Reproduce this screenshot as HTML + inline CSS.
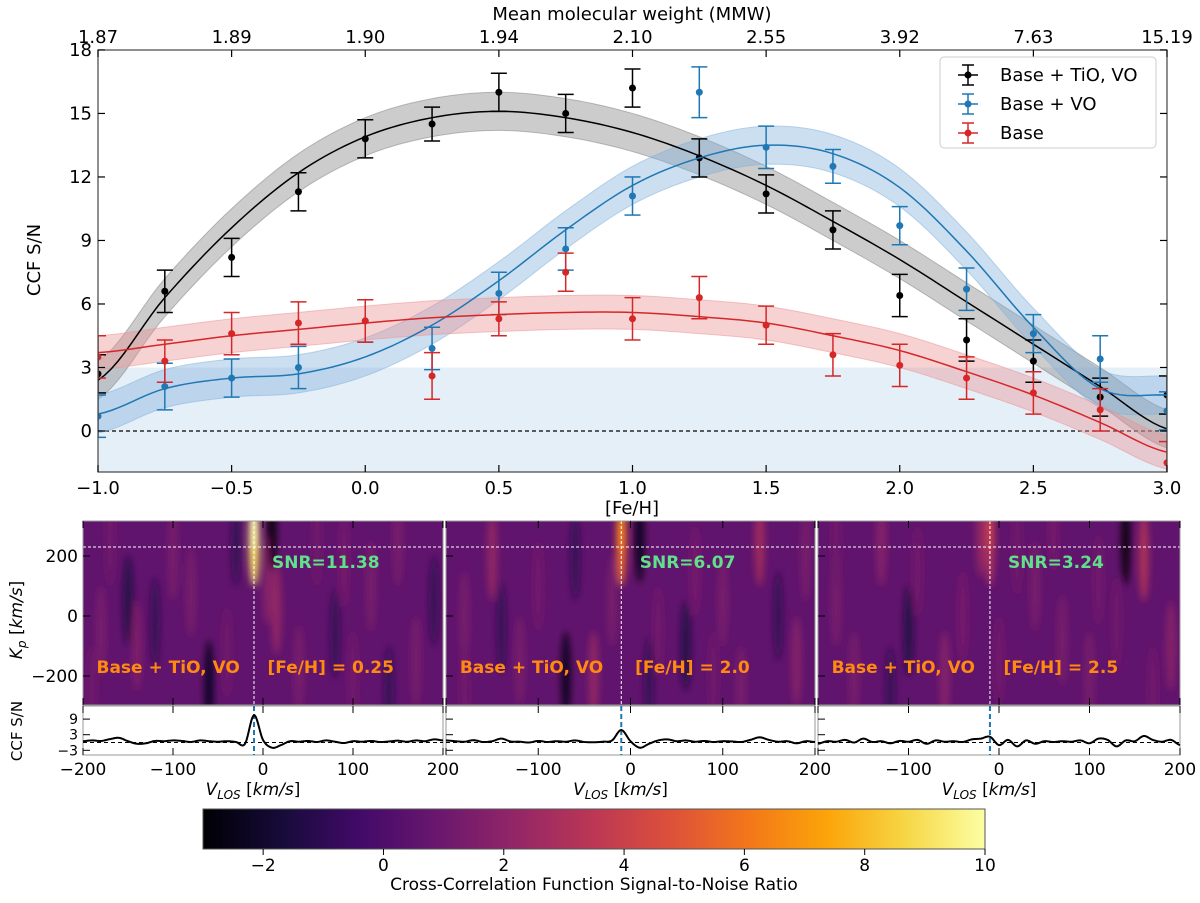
<!DOCTYPE html>
<html><head><meta charset="utf-8"><style>
body{margin:0;background:#fff;font-family:"Liberation Sans","DejaVu Sans",sans-serif}
svg text{font-family:"DejaVu Sans","Liberation Sans",sans-serif}
</style></head><body>
<svg id="fig" width="1200" height="898" viewBox="0 0 1200 898" xmlns="http://www.w3.org/2000/svg">
<defs>
<filter id="blur" x="-50%" y="-50%" width="200%" height="200%"><feGaussianBlur stdDeviation="3.5"/></filter>
<clipPath id="mainclip"><rect x="98" y="50" width="1069" height="422"/></clipPath>
<linearGradient id="inferno" x1="0" x2="1" y1="0" y2="0">
<stop offset="0" stop-color="#000004"/><stop offset="0.1" stop-color="#160b39"/><stop offset="0.2" stop-color="#420a68"/><stop offset="0.3" stop-color="#6a176e"/><stop offset="0.4" stop-color="#932667"/><stop offset="0.5" stop-color="#bc3754"/><stop offset="0.6" stop-color="#dd513a"/><stop offset="0.7" stop-color="#f37819"/><stop offset="0.8" stop-color="#fca50a"/><stop offset="0.9" stop-color="#f6d746"/><stop offset="1" stop-color="#fcffa4"/>
</linearGradient>
</defs>
<g id="main"></g>
<g id="bottom"></g>
<g id="cbar"></g>
</svg>
<script>
// ---------- main chart data ----------
const feh = [-1,-0.75,-0.5,-0.25,0,0.25,0.5,0.75,1,1.25,1.5,1.75,2,2.25,2.5,2.75,3];
const blackVals = [2.7,6.6,8.2,11.3,13.8,14.5,16.0,15.0,16.2,12.9,11.2,9.5,6.4,4.3,3.3,1.6,1.7];
const blackErr = [0.9,1.0,0.9,0.9,0.9,0.8,0.9,0.9,0.9,0.9,0.9,0.9,1.0,1.0,1.0,0.9,0.9];
const blueVals = [0.7,2.1,2.5,3.0,5.2,3.9,6.5,8.6,11.1,16.0,13.4,12.5,9.7,6.7,4.6,3.4,0.95];
const blueErr = [1.0,1.1,0.9,1.0,1.0,1.0,1.0,1.0,0.9,1.2,1.0,0.8,0.9,1.0,0.9,1.1,0.9];
const redVals = [3.5,3.3,4.6,5.1,5.2,2.6,5.3,7.5,5.3,6.3,5.0,3.6,3.1,2.5,1.8,1.0,-1.5];
const redErr = [1.0,1.0,1.0,1.0,1.0,1.1,0.8,0.9,1.0,1.0,0.9,1.0,1.0,1.0,1.0,1.0,1.0];
const blackFit = [2.4,6.3,9.6,12.2,13.9,14.8,15.1,14.8,14.1,13.0,11.6,9.9,8.1,6.1,4.1,2.1,0.1];
const blueFit = [0.8,2.0,2.5,2.7,3.5,5.0,7.1,9.5,11.6,12.9,13.5,13.1,11.5,8.5,4.9,2.0,1.7];
const redFit = [3.7,4.1,4.5,4.8,5.1,5.35,5.5,5.6,5.6,5.4,5.1,4.5,3.8,2.8,1.7,0.4,-1.0];
const bandHalf = [0.9,0.9,0.8];
const mmwLabels = ["1.87","1.89","1.90","1.94","2.10","2.55","3.92","7.63","15.19"];
const xTicks = [-1,-0.5,0,0.5,1,1.5,2,2.5,3];
const yTicks = [0,3,6,9,12,15,18];
const threshold = 3;

const NS="http://www.w3.org/2000/svg";
function mk(tag,attrs,parent,txt){const e=document.createElementNS(NS,tag);for(const k in attrs)e.setAttribute(k,attrs[k]);if(txt!==undefined)e.textContent=txt;parent.appendChild(e);return e;}
const X0=98,X1=1167,Y0=50,Y1=472;
const xs=v=>X0+(v+1)/4*(X1-X0);
const ys=v=>431-v*21.17;
function smooth(xv,yv){
  const pts=[];
  for(let i=0;i<xv.length-1;i++){
    const p0=yv[Math.max(i-1,0)],p1=yv[i],p2=yv[i+1],p3=yv[Math.min(i+2,yv.length-1)];
    for(let t=0;t<1;t+=0.1){
      const t2=t*t,t3=t2*t;
      const y=0.5*((2*p1)+(-p0+p2)*t+(2*p0-5*p1+4*p2-p3)*t2+(-p0+3*p1-3*p2+p3)*t3);
      pts.push([xv[i]+(xv[i+1]-xv[i])*t,y]);
    }
  }
  pts.push([xv[xv.length-1],yv[yv.length-1]]);
  return pts;
}
const main=document.getElementById('main');
const clipG=mk('g',{'clip-path':'url(#mainclip)'},main);
let r=mk('rect',{x:X0,y:ys(threshold),width:X1-X0,height:Y1-ys(threshold),fill:'#c6dbed','fill-opacity':0.45},clipG);


let zl=mk('line',{x1:X0,x2:X1,y1:ys(0),y2:ys(0),stroke:'#000','stroke-dasharray':'4,3','stroke-width':1.2},clipG);


const series=[
 {name:'base-tio-vo',col:'#000',band:'#808080',vals:blackVals,err:blackErr,fit:blackFit,h:bandHalf[0]},
 {name:'base-vo',col:'#1f77b4',band:'#7fb0dc',vals:blueVals,err:blueErr,fit:blueFit,h:bandHalf[1]},
 {name:'base',col:'#d62728',band:'#ec8f90',vals:redVals,err:redErr,fit:redFit,h:bandHalf[2]}];
series.forEach(s=>{
  const pts=smooth(feh,s.fit);
  let d='M'+pts.map(p=>xs(p[0])+','+ys(p[1]+s.h)).join('L')+'L'+pts.slice().reverse().map(p=>xs(p[0])+','+ys(p[1]-s.h)).join('L')+'Z';
  let b=mk('path',{d:d,fill:s.band,'fill-opacity':0.4,stroke:s.band,'stroke-opacity':0.5},clipG);
  
  
});
series.forEach(s=>{
  const pts=smooth(feh,s.fit);
  let l=mk('path',{d:'M'+pts.map(p=>xs(p[0])+','+ys(p[1])).join('L'),fill:'none',stroke:s.col,'stroke-width':1.5},clipG);
  
  
  feh.forEach((f,i)=>{
    const g=mk('g',{},clipG);
    
    
    const x=xs(f),yt=ys(s.vals[i]+s.err[i]),yb=ys(s.vals[i]-s.err[i]);
    mk('line',{x1:x,x2:x,y1:yt,y2:yb,stroke:s.col,'stroke-width':1.5},g);
    mk('line',{x1:x-8,x2:x+8,y1:yt,y2:yt,stroke:s.col,'stroke-width':1.5},g);
    mk('line',{x1:x-8,x2:x+8,y1:yb,y2:yb,stroke:s.col,'stroke-width':1.5},g);
    mk('circle',{cx:x,cy:ys(s.vals[i]),r:3.5,fill:s.col},g);
  });
});
let fr=mk('rect',{x:X0,y:Y0,width:X1-X0,height:Y1-Y0,fill:'none',stroke:'#444','stroke-width':1.2},main);


xTicks.forEach((t,i)=>{
  const x=xs(t);
  mk('line',{x1:x,x2:x,y1:Y1,y2:Y1-7,stroke:'#000','stroke-width':1.2},main);
  mk('line',{x1:x,x2:x,y1:Y0,y2:Y0+7,stroke:'#000','stroke-width':1.2},main);
  let tl=mk('text',{x:x,y:Y1+22,'text-anchor':'middle','font-size':18},main,t.toFixed(1).replace('-','−'));
  
  
  let ml=mk('text',{x:x,y:Y0-7,'text-anchor':'middle','font-size':18},main,mmwLabels[i]);
  
  
});
yTicks.forEach(t=>{
  const y=ys(t);
  mk('line',{x1:X0,x2:X0+7,y1:y,y2:y,stroke:'#000','stroke-width':1.2},main);
  mk('line',{x1:X1,x2:X1-7,y1:y,y2:y,stroke:'#000','stroke-width':1.2},main);
  let tl=mk('text',{x:X0-6,y:y+6,'text-anchor':'end','font-size':18},main,t);
  
  
});
let xt=mk('text',{x:632,y:514,'text-anchor':'middle','font-size':18},main,'[Fe/H]');

let tt=mk('text',{x:632,y:20,'text-anchor':'middle','font-size':18},main,'Mean molecular weight (MMW)');

let yt=mk('text',{x:40,y:260,'text-anchor':'middle','font-size':18,transform:'rotate(-90 40 260)'},main,'CCF S/N');

const lg=mk('g',{},main);

mk('rect',{x:940,y:57,width:216,height:91,rx:4,fill:'#fff',stroke:'#ccc'},lg);
['Base + TiO, VO','Base + VO','Base'].forEach((n,i)=>{
  const y=75+i*29,c=series[i].col;
  const e=mk('g',{},lg);
  
  mk('line',{x1:958,x2:978,y1:y,y2:y,stroke:c,'stroke-width':1.5},e);
  mk('line',{x1:968,x2:968,y1:y-10,y2:y+10,stroke:c,'stroke-width':1.5},e);
  mk('line',{x1:962,x2:974,y1:y-10,y2:y-10,stroke:c,'stroke-width':1.5},e);
  mk('line',{x1:962,x2:974,y1:y+10,y2:y+10,stroke:c,'stroke-width':1.5},e);
  mk('circle',{cx:968,cy:y,r:3.5,fill:c},e);
  mk('text',{x:1000,y:y+6,'font-size':18},e,n);
});

// ---------- bottom panels data ----------
const panelFeh = ["0.25","2.0","2.5"];
const panelSNR = ["11.38","6.07","3.24"];
const peakVal = [10,6.5,4];
const vlosGrid = [-200,-190,-180,-170,-160,-150,-140,-130,-120,-110,-100,-90,-80,-70,-60,-50,-40,-30,-20,-10,0,10,20,30,40,50,60,70,80,90,100,110,120,130,140,150,160,170,180,190,200];
const ccf1 = [0.5,0.8,0.6,1.3,1.8,0.5,-0.5,-0.3,0.6,0.5,0.8,0.6,0.2,0.8,0.5,0.3,0.5,0.2,-0.5,10.5,1.0,-2.0,-1.0,0.5,0.3,0.6,0.2,0.8,0.3,-0.2,0.5,0.3,0.6,0.2,0.4,0.7,0.3,0.8,0.5,1.2,0.8];
const ccf2 = [0.8,0.5,0.3,0.9,0.2,0.5,1.5,0.4,0.3,0.0,0.6,0.2,0.5,0.3,0.8,0.2,0.1,0.3,0.8,4.8,0.5,-2.0,-0.5,0.8,1.2,0.5,0.8,0.3,0.6,0.2,0.5,0.4,0.2,1.0,2.0,1.0,0.3,0.5,-0.3,0.5,0.2];
const ccf3 = [-0.5,0.5,0.3,1.0,0.0,1.5,0.2,0.5,-0.3,0.6,0.3,1.0,-0.5,0.8,0.3,0.5,0.2,1.2,1.5,2.2,-1.0,1.0,-1.5,0.8,-0.5,0.5,0.2,0.5,0.3,0.8,-0.3,1.5,1.0,-1.5,0.8,0.5,2.5,1.0,0.3,1.0,-1.0];
const streaks1 = [[-150,50,-1.5],[-140,-100,1.8],[-60,-230,-2.5],[15,20,2.5],[5,120,2],[10,300,-3],[-100,200,1.5],[120,100,1.5],[170,-150,1.5],[60,250,1.2],[-180,-50,1.5],[-170,250,1.2],[-120,-20,-1],[-80,80,1.5],[-40,-120,1.2],[-30,250,-1],[40,-180,1.5],[80,-60,-1],[90,180,1.4],[140,-250,-1],[150,250,1.5],[190,50,-1],[-190,-250,1.2],[100,-200,1.3]];
const streaks2 = [[-150,200,2.5],[-70,-200,-2.8],[-40,-200,2.5],[10,260,-2.8],[140,250,3],[100,50,1.5],[-120,-150,1.5],[180,-150,2],[60,-100,-1.5],[-180,0,1.5],[-100,100,1.3],[-60,200,-1],[-20,50,1.5],[30,-50,1.3],[70,150,1.4],[120,-250,1.5],[160,0,-1],[190,200,1.5],[-140,-40,-1],[20,-220,-1],[-180,-250,1.3],[90,-200,1.2]];
const streaks3 = [[-180,50,1.5],[-130,250,2],[-60,-200,2],[-20,280,2.5],[140,250,-3],[160,200,3.5],[100,-200,1.5],[40,100,1.5],[-100,-50,-1.5],[-160,-200,1.5],[-90,150,1.3],[-40,0,1.4],[0,-150,1.3],[20,220,1.2],[70,-80,1.5],[110,120,1.3],[190,-100,2],[-180,250,1.2],[-120,-250,-1],[60,300,1.4],[130,-20,1.2],[170,-250,1.3]];
const ccfs=[ccf1,ccf2,ccf3], streakSets=[streaks1,streaks2,streaks3];
const cbTicks=[-2,0,2,4,6,8,10];
const cbMin=-3.0, cbMax=10;

const infernoStops=['#000004','#160b39','#420a68','#6a176e','#932667','#bc3754','#dd513a','#f37819','#fca50a','#f6d746','#fcffa4'];
function hex2(c){return [1,3,5].map(i=>parseInt(c.substr(i,2),16));}
function valFrac(v){return (v-cbMin)/(cbMax-cbMin);}
function cmap(v){const f=Math.max(0,Math.min(1,valFrac(v)))*10;const i=Math.min(9,Math.floor(f)),t=f-i;const a=hex2(infernoStops[i]),b=hex2(infernoStops[i+1]);return 'rgb('+a.map((x,k)=>Math.round(x+(b[k]-x)*t)).join(',')+')';}

const panels=[[83,443],[446,815],[818,1180]];
const HY0=521,HY1=705,CY0=706,CY1=755;
const bottom=document.getElementById('bottom');
const kpY=kp=>616-kp*0.3;
panels.forEach((p,pi)=>{
  const [px0,px1]=p;
  const vx=v=>px0+(v+200)/400*(px1-px0);
  const g=mk('g',{},bottom);
  
  const cid='pc'+pi;
  const cp=mk('clipPath',{id:cid},g);mk('rect',{x:px0,y:HY0,width:px1-px0,height:HY1-HY0},cp);
  const hg=mk('g',{'clip-path':'url(#'+cid+')'},g);
  let bg=mk('rect',{x:px0,y:HY0,width:px1-px0,height:HY1-HY0,fill:cmap(0.6)},hg);
  
  const bl=mk('g',{filter:'url(#blur)'},hg);
  streakSets[pi].forEach(s=>{
    let e=mk('ellipse',{cx:vx(s[0]),cy:kpY(s[1]),rx:5,ry:45,fill:cmap(s[2]),'fill-opacity':0.8},bl);
    
  });
  let pk=mk('ellipse',{cx:vx(-10),cy:kpY(250),rx:5,ry:45,fill:cmap(peakVal[pi]-1)},bl);
  
  mk('ellipse',{cx:vx(-10),cy:kpY(300),rx:3.5,ry:25,fill:cmap(peakVal[pi])},bl);
  mk('line',{x1:px0,x2:px1,y1:kpY(230),y2:kpY(230),stroke:'#fff','stroke-dasharray':'3,2','stroke-width':1},hg);
  mk('line',{x1:vx(-10),x2:vx(-10),y1:HY0,y2:HY1,stroke:'#fff','stroke-dasharray':'3,2','stroke-width':1},hg);
  mk('rect',{x:px0,y:HY0,width:px1-px0,height:HY1-HY0,fill:'none',stroke:'#999'},g);
  let sn=mk('text',{x:vx(10),y:568,'font-size':17,'font-weight':'bold',fill:'#5fe08a'},g,'SNR='+panelSNR[pi]);
  
  let l1=mk('text',{x:vx(-185),y:673,'font-size':17,'font-weight':'bold',fill:'#ff8a10'},g,'Base + TiO, VO');
  
  let l2=mk('text',{x:vx(5),y:673,'font-size':17,'font-weight':'bold',fill:'#ff8a10'},g,'[Fe/H] = '+panelFeh[pi]);
  
  const cy=v=>742.5-v*2.6;
  mk('rect',{x:px0,y:CY0,width:px1-px0,height:CY1-CY0,fill:'#fff',stroke:'#999'},g);
  mk('line',{x1:px0,x2:px1,y1:cy(0),y2:cy(0),stroke:'#000','stroke-dasharray':'4,3'},g);
  mk('line',{x1:vx(-10),x2:vx(-10),y1:CY0,y2:CY1,stroke:'#1f77b4','stroke-dasharray':'5,3','stroke-width':2},g);
  const pts=smooth(vlosGrid,ccfs[pi]);
  let cl=mk('path',{d:'M'+pts.map(q=>vx(q[0])+','+cy(q[1])).join('L'),fill:'none',stroke:'#000','stroke-width':2},g);
  
  [-200,-100,0,100,200].forEach(v=>{
    mk('line',{x1:vx(v),x2:vx(v),y1:HY0,y2:HY0+7,stroke:'#000'},g);
    mk('line',{x1:vx(v),x2:vx(v),y1:HY1,y2:HY1-7,stroke:'#000'},g);
    mk('line',{x1:vx(v),x2:vx(v),y1:CY0,y2:CY0+7,stroke:'#000'},g);
    mk('line',{x1:vx(v),x2:vx(v),y1:CY1,y2:CY1-7,stroke:'#000'},g);
    if(!(pi>0&&v===-200)){
      let t=mk('text',{x:vx(v),y:775,'text-anchor':'middle','font-size':17},g,String(v).replace('-','−'));
      
    }
  });
  [200,0,-200].forEach(k=>mk('line',{x1:px0,x2:px0+7,y1:kpY(k),y2:kpY(k),stroke:'#000'},g));
  [9,3,-3].forEach(k=>mk('line',{x1:px0,x2:px0+7,y1:cy(k),y2:cy(k),stroke:'#000'},g));
  let xl=mk('text',{x:(px0+px1)/2-10,y:795,'text-anchor':'middle','font-size':17},g);
  
  xl.innerHTML='<tspan font-style="italic">V</tspan><tspan font-style="italic" font-size="12" dy="4">LOS</tspan><tspan dy="-4"> [</tspan><tspan font-style="italic">km/s</tspan>]';
});
[[200,'200'],[0,'0'],[-200,'−200']].forEach(k=>{let t=mk('text',{x:78,y:kpY(k[0])+6,'text-anchor':'end','font-size':17},bottom,k[1]);});
[[9,'9'],[3,'3'],[-3,'−3']].forEach(k=>{let t=mk('text',{x:78,y:742.5-k[0]*2.6+5,'text-anchor':'end','font-size':14},bottom,k[1]);});
let kl=mk('text',{x:22,y:620,'text-anchor':'middle','font-size':17,transform:'rotate(-90 22 620)'},bottom);

kl.innerHTML='<tspan font-style="italic">K</tspan><tspan font-style="italic" font-size="12" dy="4">p</tspan><tspan dy="-4"> [</tspan><tspan font-style="italic">km/s</tspan>]';
let cl2=mk('text',{x:22,y:731,'text-anchor':'middle','font-size':15,transform:'rotate(-90 22 731)'},bottom,'CCF S/N');


const cb=document.getElementById('cbar');
const CBX0=203,CBX1=985;
const cbx=v=>CBX0+(v-cbMin)/(cbMax-cbMin)*(CBX1-CBX0);
let cbr=mk('rect',{x:CBX0,y:809,width:CBX1-CBX0,height:40,fill:'url(#inferno)',stroke:'#555'},cb);

cbTicks.forEach(t=>{
  mk('line',{x1:cbx(t),x2:cbx(t),y1:849,y2:855,stroke:'#000'},cb);
  let l=mk('text',{x:cbx(t),y:871,'text-anchor':'middle','font-size':17},cb,String(t).replace('-','−'));
  
});
let cbt=mk('text',{x:594,y:890,'text-anchor':'middle','font-size':17},cb,'Cross-Correlation Function Signal-to-Noise Ratio');

</script>
</body></html>
